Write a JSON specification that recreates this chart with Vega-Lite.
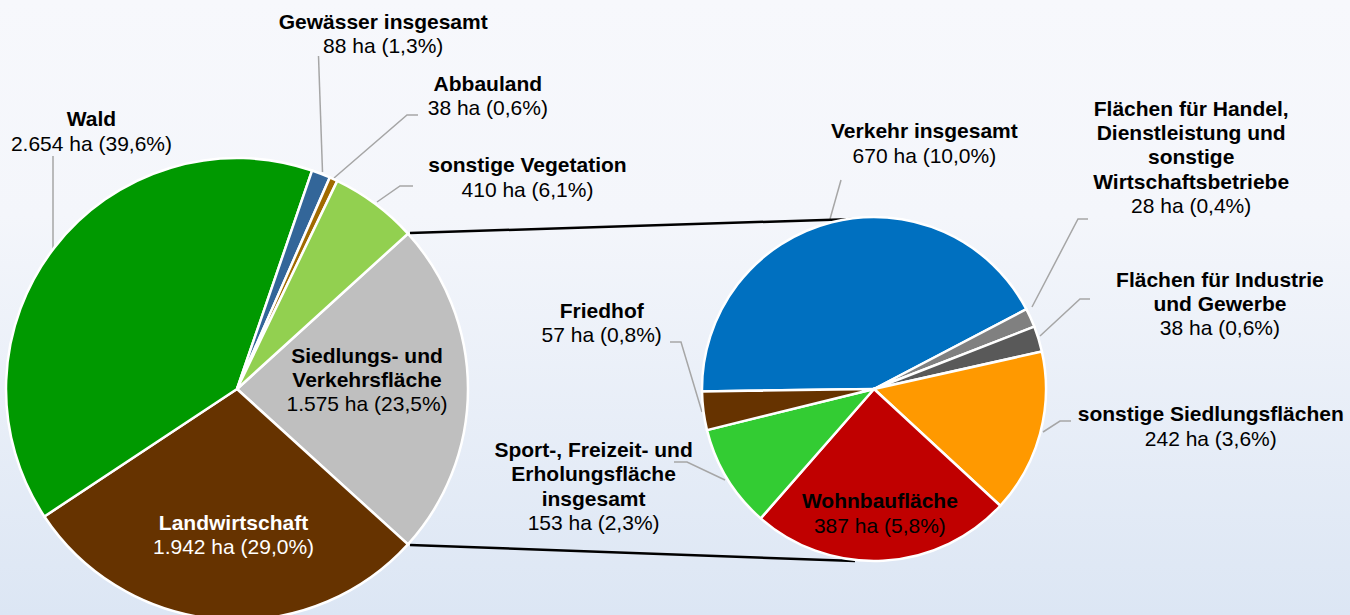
{
  "$schema": "https://vega.github.io/schema/vega-lite/v6.json",
  "width": 1350,
  "height": 615,
  "autosize": "none",
  "padding": 0,
  "background": "#F5F7FB",
  "view": {
    "stroke": null,
    "fill": {"gradient": "linear", "x1": 0, "y1": 0, "x2": 0, "y2": 1, "stops": [{"offset": 0, "color": "#F7F8FC"}, {"offset": 0.35, "color": "#F4F6FB"}, {"offset": 1, "color": "#DCE6F4"}]}
  },
  "config": {"text": {"font": "Liberation Sans", "fontSize": 21, "align": "center", "baseline": "alphabetic"}},
  "datasets": {
    "flaechen": [
      {"kategorie": "Siedlungs- und Verkehrsfläche", "titel": "Siedlungs- und\nVerkehrsfläche", "wert": "1.575 ha (23,5%)", "ha": 1575, "reihe": 1, "diagramm": "Flächennutzung"},
      {"kategorie": "Landwirtschaft", "titel": "Landwirtschaft", "wert": "1.942 ha (29,0%)", "ha": 1942, "reihe": 2, "diagramm": "Flächennutzung"},
      {"kategorie": "Wald", "titel": "Wald", "wert": "2.654 ha (39,6%)", "ha": 2654, "reihe": 3, "diagramm": "Flächennutzung"},
      {"kategorie": "Gewässer insgesamt", "titel": "Gewässer insgesamt", "wert": "88 ha (1,3%)", "ha": 88, "reihe": 4, "diagramm": "Flächennutzung"},
      {"kategorie": "Abbauland", "titel": "Abbauland", "wert": "38 ha (0,6%)", "ha": 38, "reihe": 5, "diagramm": "Flächennutzung"},
      {"kategorie": "sonstige Vegetation", "titel": "sonstige Vegetation", "wert": "410 ha (6,1%)", "ha": 410, "reihe": 6, "diagramm": "Flächennutzung"}
    ],
    "siedlung": [
      {"kategorie": "Verkehr insgesamt", "titel": "Verkehr insgesamt", "wert": "670 ha (10,0%)", "ha": 670, "reihe": 1, "diagramm": "Siedlungs- und Verkehrsfläche"},
      {"kategorie": "Flächen für Handel, Dienstleistung und sonstige Wirtschaftsbetriebe", "titel": "Flächen für Handel,\nDienstleistung und\nsonstige\nWirtschaftsbetriebe", "wert": "28 ha (0,4%)", "ha": 28, "reihe": 2, "diagramm": "Siedlungs- und Verkehrsfläche"},
      {"kategorie": "Flächen für Industrie und Gewerbe", "titel": "Flächen für Industrie\nund Gewerbe", "wert": "38 ha (0,6%)", "ha": 38, "reihe": 3, "diagramm": "Siedlungs- und Verkehrsfläche"},
      {"kategorie": "sonstige Siedlungsflächen", "titel": "sonstige Siedlungsflächen", "wert": "242 ha (3,6%)", "ha": 242, "reihe": 4, "diagramm": "Siedlungs- und Verkehrsfläche"},
      {"kategorie": "Wohnbaufläche", "titel": "Wohnbaufläche", "wert": "387 ha (5,8%)", "ha": 387, "reihe": 5, "diagramm": "Siedlungs- und Verkehrsfläche"},
      {"kategorie": "Sport-, Freizeit- und Erholungsfläche insgesamt", "titel": "Sport-, Freizeit- und\nErholungsfläche\ninsgesamt", "wert": "153 ha (2,3%)", "ha": 153, "reihe": 6, "diagramm": "Siedlungs- und Verkehrsfläche"},
      {"kategorie": "Friedhof", "titel": "Friedhof", "wert": "57 ha (0,8%)", "ha": 57, "reihe": 7, "diagramm": "Siedlungs- und Verkehrsfläche"}
    ],
    "linien": [
      {"linie": "Verbindung oben", "art": "Verbindung", "punkt": 1, "x": 410, "y": 233},
      {"linie": "Verbindung oben", "art": "Verbindung", "punkt": 2, "x": 855, "y": 219},
      {"linie": "Verbindung unten", "art": "Verbindung", "punkt": 1, "x": 410, "y": 545},
      {"linie": "Verbindung unten", "art": "Verbindung", "punkt": 2, "x": 855, "y": 561},
      {"linie": "Wald", "art": "Hilfslinie", "punkt": 1, "x": 53, "y": 156},
      {"linie": "Wald", "art": "Hilfslinie", "punkt": 2, "x": 53, "y": 249},
      {"linie": "Gewässer", "art": "Hilfslinie", "punkt": 1, "x": 318.5, "y": 56},
      {"linie": "Gewässer", "art": "Hilfslinie", "punkt": 2, "x": 322.5, "y": 172},
      {"linie": "Abbauland", "art": "Hilfslinie", "punkt": 1, "x": 418, "y": 115},
      {"linie": "Abbauland", "art": "Hilfslinie", "punkt": 2, "x": 407, "y": 115},
      {"linie": "Abbauland", "art": "Hilfslinie", "punkt": 3, "x": 334, "y": 178},
      {"linie": "sonstige Vegetation", "art": "Hilfslinie", "punkt": 1, "x": 413, "y": 186},
      {"linie": "sonstige Vegetation", "art": "Hilfslinie", "punkt": 2, "x": 400, "y": 186},
      {"linie": "sonstige Vegetation", "art": "Hilfslinie", "punkt": 3, "x": 377, "y": 202},
      {"linie": "Verkehr", "art": "Hilfslinie", "punkt": 1, "x": 841, "y": 180},
      {"linie": "Verkehr", "art": "Hilfslinie", "punkt": 2, "x": 830, "y": 219},
      {"linie": "Handel", "art": "Hilfslinie", "punkt": 1, "x": 1088, "y": 219},
      {"linie": "Handel", "art": "Hilfslinie", "punkt": 2, "x": 1078, "y": 219},
      {"linie": "Handel", "art": "Hilfslinie", "punkt": 3, "x": 1032, "y": 307},
      {"linie": "Industrie", "art": "Hilfslinie", "punkt": 1, "x": 1090, "y": 299},
      {"linie": "Industrie", "art": "Hilfslinie", "punkt": 2, "x": 1080, "y": 299},
      {"linie": "Industrie", "art": "Hilfslinie", "punkt": 3, "x": 1040, "y": 336},
      {"linie": "sonstige Siedlungsflächen", "art": "Hilfslinie", "punkt": 1, "x": 1071, "y": 421},
      {"linie": "sonstige Siedlungsflächen", "art": "Hilfslinie", "punkt": 2, "x": 1060, "y": 421},
      {"linie": "sonstige Siedlungsflächen", "art": "Hilfslinie", "punkt": 3, "x": 1043, "y": 432},
      {"linie": "Friedhof", "art": "Hilfslinie", "punkt": 1, "x": 670, "y": 342},
      {"linie": "Friedhof", "art": "Hilfslinie", "punkt": 2, "x": 681, "y": 342},
      {"linie": "Friedhof", "art": "Hilfslinie", "punkt": 3, "x": 702, "y": 412},
      {"linie": "Sport", "art": "Hilfslinie", "punkt": 1, "x": 674, "y": 462},
      {"linie": "Sport", "art": "Hilfslinie", "punkt": 2, "x": 687, "y": 462},
      {"linie": "Sport", "art": "Hilfslinie", "punkt": 3, "x": 725, "y": 480}
    ]
  },
  "layer": [
    {
      "data": {"name": "linien"},
      "encoding": {
        "x": {"field": "x", "type": "quantitative", "scale": {"domain": [0, 1350], "range": [0, 1350]}, "axis": null},
        "y": {"field": "y", "type": "quantitative", "scale": {"domain": [0, 615], "range": [0, 615]}, "axis": null},
        "detail": {"field": "linie", "type": "nominal"},
        "order": {"field": "punkt", "type": "quantitative"}
      },
      "layer": [
        {"transform": [{"filter": "datum.art === 'Hilfslinie'"}], "mark": {"type": "line", "color": "#A6A6A6", "strokeWidth": 1.5}},
        {"transform": [{"filter": "datum.art === 'Verbindung'"}], "mark": {"type": "line", "color": "#000000", "strokeWidth": 2.5}}
      ]
    },
    {
      "layer": [
        {
          "data": {"name": "flaechen"},
          "encoding": {
            "theta": {"field": "ha", "type": "quantitative", "stack": true, "scale": {"range": [0.8331, 7.1163]}},
            "order": {"field": "reihe", "type": "quantitative"},
            "x": {"field": "diagramm", "type": "nominal", "scale": {"type": "point", "padding": 0, "domain": ["Flächennutzung", "Siedlungs- und Verkehrsfläche"], "range": [237, 874]}, "axis": null},
            "y": {"field": "diagramm", "type": "nominal", "scale": {"type": "point", "padding": 0, "domain": ["Flächennutzung", "Siedlungs- und Verkehrsfläche"], "range": [389, 389]}, "axis": null}
          },
          "layer": [
            {
              "mark": {"type": "arc", "outerRadius": 231, "stroke": "#FFFFFF", "strokeWidth": 2.5},
              "encoding": {
                "color": {"field": "kategorie", "type": "nominal", "legend": null, "scale": {
                  "domain": ["Siedlungs- und Verkehrsfläche", "Landwirtschaft", "Wald", "Gewässer insgesamt", "Abbauland", "sonstige Vegetation", "Verkehr insgesamt", "Flächen für Handel, Dienstleistung und sonstige Wirtschaftsbetriebe", "Flächen für Industrie und Gewerbe", "sonstige Siedlungsflächen", "Wohnbaufläche", "Sport-, Freizeit- und Erholungsfläche insgesamt", "Friedhof"],
                  "range": ["#BFBFBF", "#663300", "#009900", "#336699", "#A06A00", "#92D050", "#0070C0", "#808080", "#595959", "#FF9900", "#C00000", "#33CC33", "#663300"]}}
              }
            },
            {"mark": {"type": "text", "radius": 130, "dx": 0, "dy": 22, "color": "#000000"}, "encoding": {"text": {"condition": {"test": "datum.reihe === 1", "field": "wert", "type": "nominal"}, "value": ""}}},
            {"mark": {"type": "text", "radius": 130, "dx": 0, "dy": -26, "color": "#000000", "fontWeight": "bold", "lineBreak": "\n", "lineHeight": 24.2}, "encoding": {"text": {"condition": {"test": "datum.reihe === 1", "field": "titel", "type": "nominal"}, "value": ""}}},
            {"mark": {"type": "text", "radius": 150, "dx": 8, "dy": 15, "color": "#FFFFFF"}, "encoding": {"text": {"condition": {"test": "datum.reihe === 2", "field": "wert", "type": "nominal"}, "value": ""}}},
            {"mark": {"type": "text", "radius": 150, "dx": 8, "dy": -9, "color": "#FFFFFF", "fontWeight": "bold", "lineBreak": "\n", "lineHeight": 24.2}, "encoding": {"text": {"condition": {"test": "datum.reihe === 2", "field": "titel", "type": "nominal"}, "value": ""}}},
            {"mark": {"type": "text", "radius": 270, "dx": 68, "dy": -73, "color": "#000000"}, "encoding": {"text": {"condition": {"test": "datum.reihe === 3", "field": "wert", "type": "nominal"}, "value": ""}}},
            {"mark": {"type": "text", "radius": 270, "dx": 68, "dy": -98, "color": "#000000", "fontWeight": "bold", "lineBreak": "\n", "lineHeight": 24.2}, "encoding": {"text": {"condition": {"test": "datum.reihe === 3", "field": "titel", "type": "nominal"}, "value": ""}}},
            {"mark": {"type": "text", "radius": 270, "dx": 48, "dy": -84, "color": "#000000"}, "encoding": {"text": {"condition": {"test": "datum.reihe === 4", "field": "wert", "type": "nominal"}, "value": ""}}},
            {"mark": {"type": "text", "radius": 270, "dx": 48, "dy": -108, "color": "#000000", "fontWeight": "bold", "lineBreak": "\n", "lineHeight": 24.2}, "encoding": {"text": {"condition": {"test": "datum.reihe === 4", "field": "titel", "type": "nominal"}, "value": ""}}},
            {"mark": {"type": "text", "radius": 270, "dx": 138, "dy": -29, "color": "#000000"}, "encoding": {"text": {"condition": {"test": "datum.reihe === 5", "field": "wert", "type": "nominal"}, "value": ""}}},
            {"mark": {"type": "text", "radius": 270, "dx": 138, "dy": -53, "color": "#000000", "fontWeight": "bold", "lineBreak": "\n", "lineHeight": 24.2}, "encoding": {"text": {"condition": {"test": "datum.reihe === 5", "field": "titel", "type": "nominal"}, "value": ""}}},
            {"mark": {"type": "text", "radius": 270, "dx": 129, "dy": 24, "color": "#000000"}, "encoding": {"text": {"condition": {"test": "datum.reihe === 6", "field": "wert", "type": "nominal"}, "value": ""}}},
            {"mark": {"type": "text", "radius": 270, "dx": 129, "dy": -1, "color": "#000000", "fontWeight": "bold", "lineBreak": "\n", "lineHeight": 24.2}, "encoding": {"text": {"condition": {"test": "datum.reihe === 6", "field": "titel", "type": "nominal"}, "value": ""}}}
          ]
        },
        {
          "data": {"name": "siedlung"},
          "encoding": {
            "theta": {"field": "ha", "type": "quantitative", "stack": true, "scale": {"range": [-1.5847, 4.6985]}},
            "order": {"field": "reihe", "type": "quantitative"},
            "x": {"field": "diagramm", "type": "nominal", "scale": {"type": "point", "padding": 0, "domain": ["Flächennutzung", "Siedlungs- und Verkehrsfläche"], "range": [237, 874]}, "axis": null},
            "y": {"field": "diagramm", "type": "nominal", "scale": {"type": "point", "padding": 0, "domain": ["Flächennutzung", "Siedlungs- und Verkehrsfläche"], "range": [389, 389]}, "axis": null}
          },
          "layer": [
            {
              "mark": {"type": "arc", "outerRadius": 172, "stroke": "#FFFFFF", "strokeWidth": 2.5},
              "encoding": {
                "color": {"field": "kategorie", "type": "nominal", "legend": null, "scale": {
                  "domain": ["Siedlungs- und Verkehrsfläche", "Landwirtschaft", "Wald", "Gewässer insgesamt", "Abbauland", "sonstige Vegetation", "Verkehr insgesamt", "Flächen für Handel, Dienstleistung und sonstige Wirtschaftsbetriebe", "Flächen für Industrie und Gewerbe", "sonstige Siedlungsflächen", "Wohnbaufläche", "Sport-, Freizeit- und Erholungsfläche insgesamt", "Friedhof"],
                  "range": ["#BFBFBF", "#663300", "#009900", "#336699", "#A06A00", "#92D050", "#0070C0", "#808080", "#595959", "#FF9900", "#C00000", "#33CC33", "#663300"]}}
              }
            },
            {"mark": {"type": "text", "radius": 210, "dx": 102, "dy": -22, "color": "#000000"}, "encoding": {"text": {"condition": {"test": "datum.reihe === 1", "field": "wert", "type": "nominal"}, "value": ""}}},
            {"mark": {"type": "text", "radius": 210, "dx": 102, "dy": -47, "color": "#000000", "fontWeight": "bold", "lineBreak": "\n", "lineHeight": 24.2}, "encoding": {"text": {"condition": {"test": "datum.reihe === 1", "field": "titel", "type": "nominal"}, "value": ""}}},
            {"mark": {"type": "text", "radius": 210, "dx": 126, "dy": -89, "color": "#000000"}, "encoding": {"text": {"condition": {"test": "datum.reihe === 2", "field": "wert", "type": "nominal"}, "value": ""}}},
            {"mark": {"type": "text", "radius": 210, "dx": 126, "dy": -186, "color": "#000000", "fontWeight": "bold", "lineBreak": "\n", "lineHeight": 24.2}, "encoding": {"text": {"condition": {"test": "datum.reihe === 2", "field": "titel", "type": "nominal"}, "value": ""}}},
            {"mark": {"type": "text", "radius": 210, "dx": 145, "dy": 7, "color": "#000000"}, "encoding": {"text": {"condition": {"test": "datum.reihe === 3", "field": "wert", "type": "nominal"}, "value": ""}}},
            {"mark": {"type": "text", "radius": 210, "dx": 145, "dy": -41, "color": "#000000", "fontWeight": "bold", "lineBreak": "\n", "lineHeight": 24.2}, "encoding": {"text": {"condition": {"test": "datum.reihe === 3", "field": "titel", "type": "nominal"}, "value": ""}}},
            {"mark": {"type": "text", "radius": 210, "dx": 134, "dy": 2, "color": "#000000"}, "encoding": {"text": {"condition": {"test": "datum.reihe === 4", "field": "wert", "type": "nominal"}, "value": ""}}},
            {"mark": {"type": "text", "radius": 210, "dx": 134, "dy": -23, "color": "#000000", "fontWeight": "bold", "lineBreak": "\n", "lineHeight": 24.2}, "encoding": {"text": {"condition": {"test": "datum.reihe === 4", "field": "titel", "type": "nominal"}, "value": ""}}},
            {"mark": {"type": "text", "radius": 130, "dx": -1, "dy": 14, "color": "#000000"}, "encoding": {"text": {"condition": {"test": "datum.reihe === 5", "field": "wert", "type": "nominal"}, "value": ""}}},
            {"mark": {"type": "text", "radius": 130, "dx": -1, "dy": -11, "color": "#000000", "fontWeight": "bold", "lineBreak": "\n", "lineHeight": 24.2}, "encoding": {"text": {"condition": {"test": "datum.reihe === 5", "field": "titel", "type": "nominal"}, "value": ""}}},
            {"mark": {"type": "text", "radius": 210, "dx": -101, "dy": 32, "color": "#000000"}, "encoding": {"text": {"condition": {"test": "datum.reihe === 6", "field": "wert", "type": "nominal"}, "value": ""}}},
            {"mark": {"type": "text", "radius": 210, "dx": -101, "dy": -41, "color": "#000000", "fontWeight": "bold", "lineBreak": "\n", "lineHeight": 24.2}, "encoding": {"text": {"condition": {"test": "datum.reihe === 6", "field": "titel", "type": "nominal"}, "value": ""}}},
            {"mark": {"type": "text", "radius": 210, "dx": -64, "dy": -74, "color": "#000000"}, "encoding": {"text": {"condition": {"test": "datum.reihe === 7", "field": "wert", "type": "nominal"}, "value": ""}}},
            {"mark": {"type": "text", "radius": 210, "dx": -64, "dy": -98, "color": "#000000", "fontWeight": "bold", "lineBreak": "\n", "lineHeight": 24.2}, "encoding": {"text": {"condition": {"test": "datum.reihe === 7", "field": "titel", "type": "nominal"}, "value": ""}}}
          ]
        }
      ],
      "resolve": {"scale": {"theta": "independent"}}
    }
  ],
  "resolve": {"scale": {"x": "independent", "y": "independent"}}
}
